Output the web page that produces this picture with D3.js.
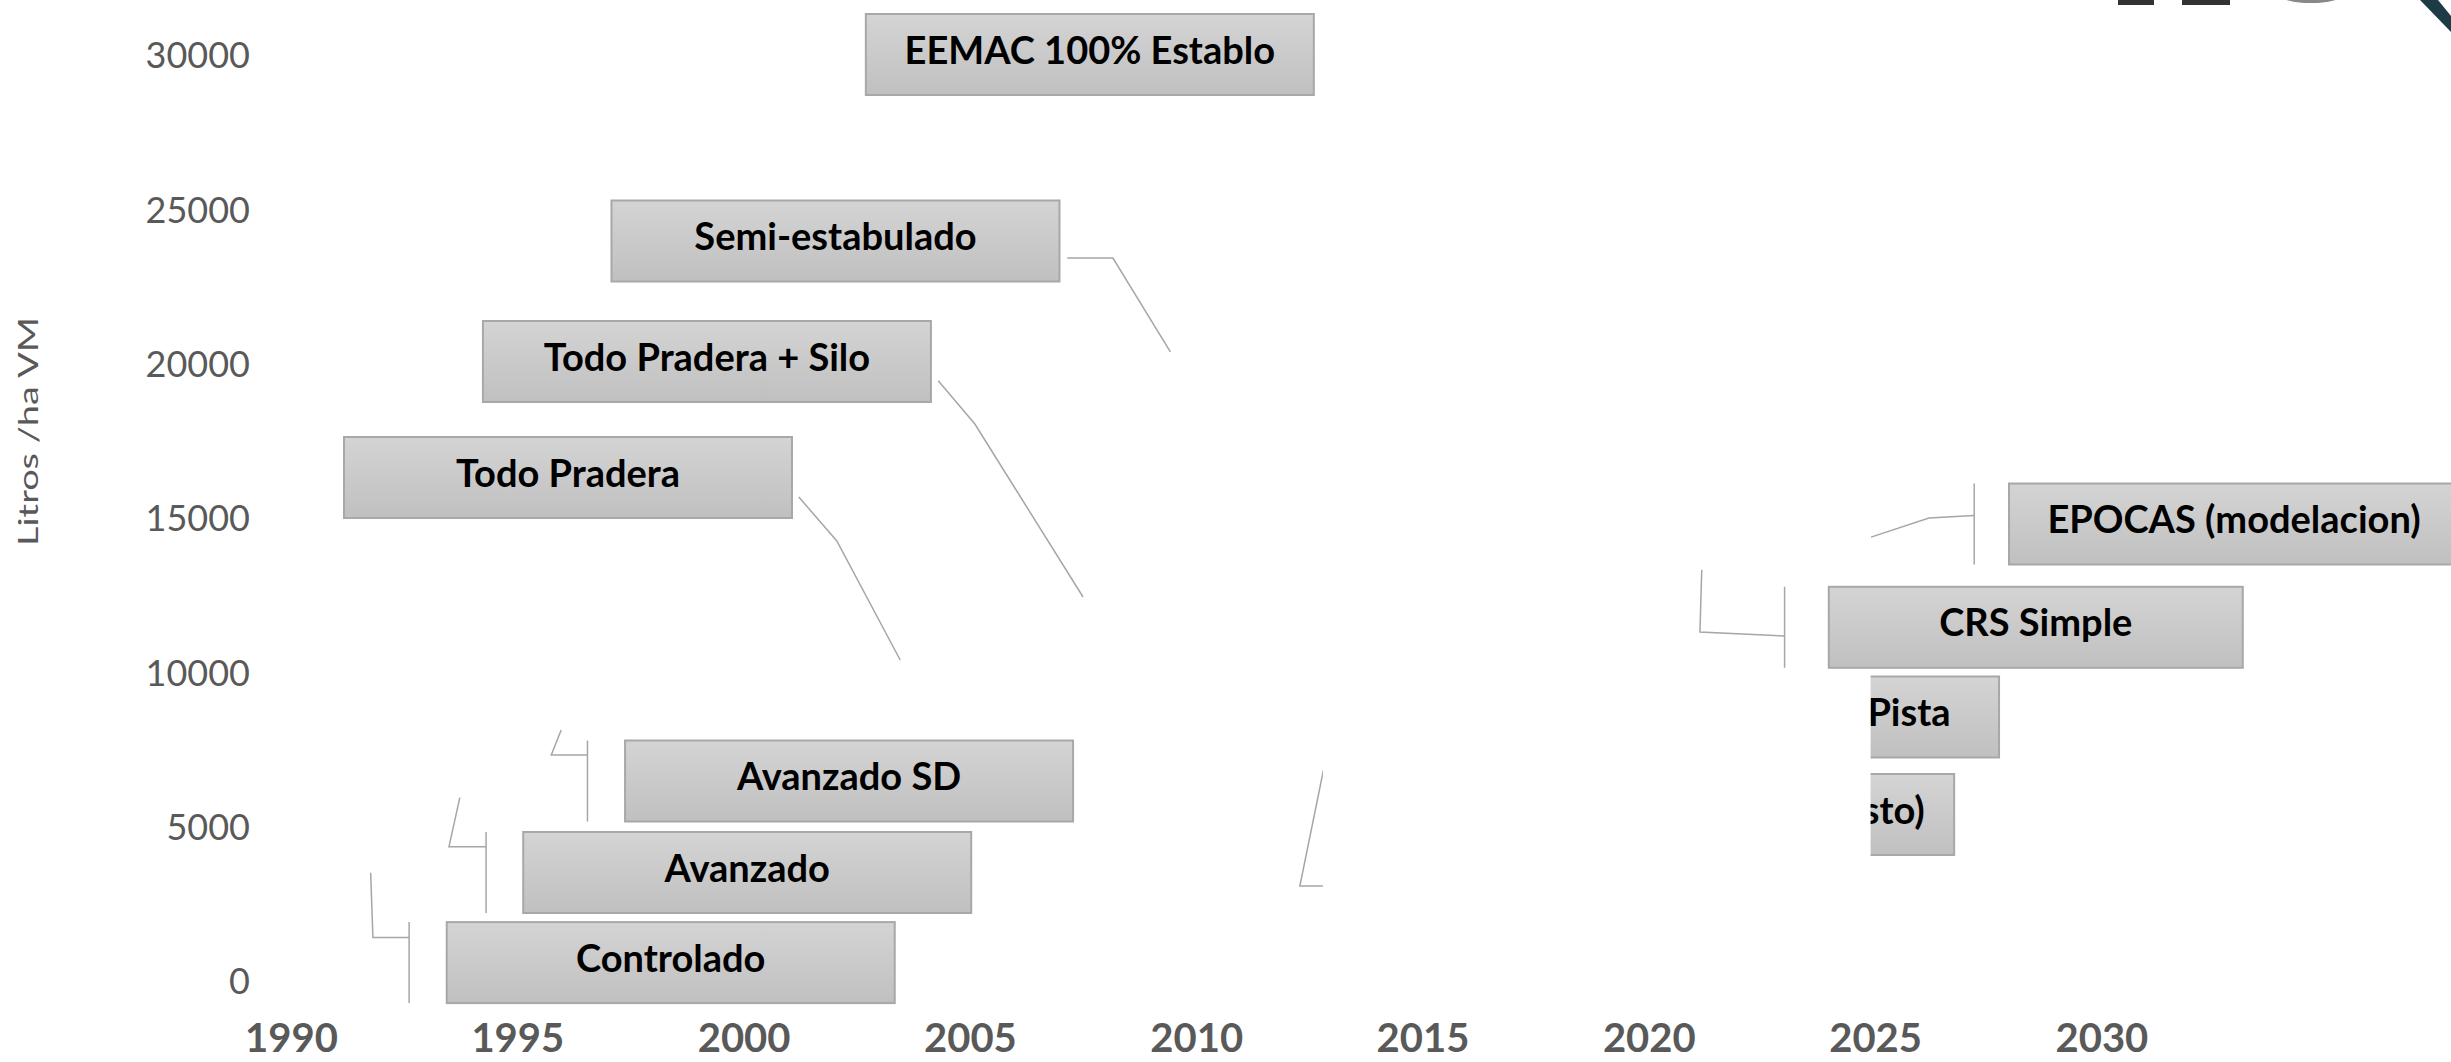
<!DOCTYPE html>
<html>
<head>
<meta charset="utf-8">
<script src="https://cdn.jsdelivr.net/npm/d3@7"></script>
<style>
  html, body { margin: 0; padding: 0; background: #fff; }
  svg { display: block; }
  .tick text { font-family: Lato, "Open Sans", sans-serif; }
</style>
</head>
<body>
<svg id="chart" width="2451" height="1062"></svg>
<script>
// Axis ticks
var xTicks = [1990, 1995, 2000, 2005, 2010, 2015, 2020, 2025, 2030];
var yTicks = [0, 5000, 10000, 15000, 20000, 25000, 30000];

// Systems (labels) and their points (year, litros/ha VM)
var labels = ['Controlado', 'Avanzado', 'Avanzado SD', 'Todo Pradera', 'Todo Pradera + Silo',
  'Semi-estabulado', 'EEMAC 100% Establo', 'EPOCAS (modelacion)', 'CRS Simple', 'Pista', 'sto)', ''];
var pointYear  = [1991.76, 1993.73, 1995.97, 2003.46, 2007.50, 2009.43, null, 2024.91, 2021.17, null, null, 2012.81];
var pointValue = [3510, 5940, 8130, 10400, 12440, 20380, null, 14380, 13320, null, null, 6820];

// Where each data label box sits (centre, in year / value units)
var boxYear  = [1998.39, 2000.08, 2002.33, 1996.12, 1999.19, 2002.03, 2007.65, 2032.93, 2028.55, 2025.75, 2025.41, null];
var boxValue = [596, 3515, 6479, 16312, 20070, 23974, 30016, 14805, 11459, 8553, 5394, null];

// Leader lines: start on the label side, bend, then run to the point
var leaderFrom = [[1992.61, 1409], [1994.31, 4351], [1996.55, 7322], [2001.22, 15680], [2004.30, 19448],
  [2007.15, 23423], null, [2027.19, 15081], [2023.00, 11177], null, null, [2013.20, 3078]];
var leaderBend = [[1991.81, 1409], [1993.49, 4351], [1995.75, 7322], [2002.06, 14255], [2005.11, 18045],
  [2008.16, 23423], null, [2026.19, 15000], [2021.13, 11307], null, null, [2012.29, 3078]];

// layout bits
var boxW = [448, 448, 448, 448, 448, 448, 448, 450, 414, 180, 121, 0];
var boxH = 81;
var layer = [0, 0, 0, 0, 0, 0, 0, 0, 1, 0, 0, 0];
var cover = [2012.8, 2024.9]; // blank area pasted over the chart on the slide

var svg = d3.select('#chart');
var font = 'Lato, "Open Sans", sans-serif';

var x = d3.scaleLinear().domain([1990, 2030]).range([291, 2101.4]);
var y = d3.scaleLinear().domain([0, 30000]).range([981, 55]);

var defs = svg.append('defs');
var grad = defs.append('linearGradient')
  .attr('id', 'boxfill')
  .attr('x1', 0).attr('y1', 0).attr('x2', 0).attr('y2', 1);
grad.append('stop').attr('offset', '0%').attr('stop-color', '#d4d4d4');
grad.append('stop').attr('offset', '100%').attr('stop-color', '#c0c0c0');

// Y axis
var yAxis = svg.append('g')
  .attr('transform', 'translate(250, 0)')
  .call(d3.axisLeft(y).tickValues(yTicks).tickSize(0).tickPadding(0).tickFormat(d3.format('d')));
yAxis.select('.domain').remove();
yAxis.selectAll('text')
  .attr('x', 0)
  .attr('dy', '0.36em')
  .style('font-size', '36px')
  .style('fill', '#595959');

// X axis
var xAxis = svg.append('g')
  .attr('transform', 'translate(0, 1052)')
  .call(d3.axisBottom(x).tickValues(xTicks).tickSize(0).tickPadding(0).tickFormat(d3.format('d')));
xAxis.select('.domain').remove();
xAxis.selectAll('text')
  .attr('y', 0)
  .attr('dy', 0)
  .style('font-size', '40px')
  .style('font-weight', 'bold')
  .style('fill', '#595959');

// Y title
svg.append('text')
  .attr('transform', 'translate(38, 431.5) rotate(-90)')
  .attr('text-anchor', 'middle')
  .attr('textLength', 229)
  .attr('lengthAdjust', 'spacingAndGlyphs')
  .style('font-family', font)
  .style('font-size', '26px')
  .style('fill', '#595959')
  .text('Litros /ha VM');

var rows = labels.map(function(d, i) { return i; });

function drawLabels(g, rowsToDraw) {
  // leader lines
  rowsToDraw.forEach(function(i) {
    if (!leaderFrom[i] || pointYear[i] == null) return;
    var a = [x(leaderFrom[i][0]), y(leaderFrom[i][1])];
    var b = [x(leaderBend[i][0]), y(leaderBend[i][1])];
    var p = [x(pointYear[i]), y(pointValue[i])];
    g.append('path')
      .attr('d', d3.line()([a, b, p]))
      .attr('fill', 'none')
      .attr('stroke', '#a6a6a6')
      .attr('stroke-width', 1.5);

    // bracket on the label side when the line comes in from the left
    if (boxYear[i] != null && a[0] < x(boxYear[i]) - boxW[i] / 2) {
      var cy = y(boxValue[i]);
      g.append('line')
        .attr('x1', a[0]).attr('x2', a[0])
        .attr('y1', cy - boxH / 2).attr('y2', cy + boxH / 2)
        .attr('stroke', '#a6a6a6')
        .attr('stroke-width', 1.5);
    }
  });

  // label boxes
  rowsToDraw.forEach(function(i) {
    if (boxYear[i] == null) return;
    var cx = x(boxYear[i]);
    var cy = y(boxValue[i]);
    g.append('rect')
      .attr('x', cx - boxW[i] / 2)
      .attr('y', cy - boxH / 2)
      .attr('width', boxW[i])
      .attr('height', boxH)
      .attr('fill', 'url(#boxfill)')
      .attr('stroke', '#a8a8a8')
      .attr('stroke-width', 2);
    g.append('text')
      .attr('x', cx)
      .attr('y', cy + 9)
      .attr('text-anchor', 'middle')
      .style('font-family', font)
      .style('font-weight', 'bold')
      .style('font-size', '38px')
      .style('fill', '#000')
      .text(labels[i]);
  });
}

var back = svg.append('g');
drawLabels(back, rows.filter(function(i) { return layer[i] === 0; }));

// white patch covering part of the chart
svg.append('rect')
  .attr('x', x(cover[0]))
  .attr('y', 0)
  .attr('width', x(cover[1]) - x(cover[0]))
  .attr('height', 1005)
  .attr('fill', '#fff');

var front = svg.append('g');
drawLabels(front, rows.filter(function(i) { return layer[i] === 1; }));

// bits of a logo cut off at the top right corner
var logo = svg.append('g');
logo.append('rect').attr('x', 2118).attr('y', 0).attr('width', 36).attr('height', 5).attr('fill', '#333');
logo.append('rect').attr('x', 2182).attr('y', 0).attr('width', 48).attr('height', 5).attr('fill', '#333');
logo.append('ellipse').attr('cx', 2311).attr('cy', -8).attr('rx', 36).attr('ry', 11).attr('fill', '#888');
logo.append('path')
  .attr('d', 'M2420,0 L2438,0 L2451,16 L2451,32 Z')
  .attr('fill', '#1d3b45');
</script>
</body>
</html>
